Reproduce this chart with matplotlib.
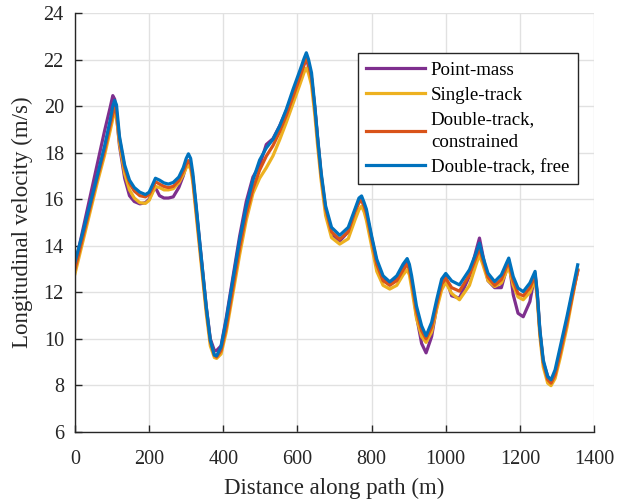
import matplotlib
matplotlib.use('Agg')
import matplotlib.pyplot as plt

plt.rcParams['font.family'] = ['Liberation Serif', 'DejaVu Serif']

# distance along path (m), shared by all four series
dist = [0, 20, 40, 60, 80, 95, 102, 107, 112, 120, 134, 147, 160, 175, 190, 200, 210, 217, 228, 240,
        252, 265, 280, 292, 300, 306, 312, 318, 327, 336, 345, 354, 365, 376, 382, 394, 408, 426, 444, 462,
        480, 498, 516, 534, 552, 570, 588, 606, 618, 624, 630, 638, 647, 655, 664, 676, 692, 714, 737, 755,
        766, 773, 780, 786, 800, 814, 831, 849, 868, 885, 896, 902, 908, 921, 935, 947, 962, 976, 989, 1000,
        1016, 1037, 1064, 1082, 1091, 1100, 1114, 1132, 1150, 1164, 1170, 1182, 1195, 1209, 1227, 1241, 1247, 1254, 1263, 1275,
        1284, 1295, 1309, 1327, 1341, 1356]

v_point = [13.15, 14.6, 16.05, 17.5, 18.95, 19.95, 20.45, 20.3, 19.6, 18.3, 16.9, 16.15, 15.9, 15.8, 15.85, 16.0, 16.35, 16.5, 16.15, 16.05,
           16.05, 16.1, 16.5, 17.0, 17.45, 17.65, 17.5, 16.9, 15.6, 14.2, 12.8, 11.4, 10.0, 9.5, 9.5, 9.7, 10.9, 12.65, 14.4, 15.9,
           16.95, 17.45, 18.35, 18.6, 19.15, 19.8, 20.55, 21.25, 21.8, 22.05, 21.7, 21.2, 19.9, 18.5, 17.0, 15.5, 14.5, 14.2, 14.6, 15.5,
           15.95, 16.0, 15.7, 15.4, 14.35, 13.3, 12.6, 12.35, 12.6, 13.1, 13.35, 13.05, 12.5, 11.0, 9.8, 9.4, 10.1, 11.4, 12.4, 12.65,
           11.85, 11.75, 12.7, 13.8, 14.33, 13.6, 12.5, 12.2, 12.2, 13.0, 13.4, 11.9, 11.1, 10.95, 11.6, 12.8, 11.9, 10.3, 9.0, 8.4,
           8.2, 8.5, 9.5, 10.8, 11.9, 12.9]

v_single = [12.8, 14.1, 15.4, 16.7, 17.9, 18.95, 19.45, 19.7, 19.55, 18.4, 17.1, 16.4, 16.05, 15.85, 15.82, 15.95, 16.3, 16.55, 16.5, 16.4,
            16.4, 16.45, 16.7, 17.05, 17.35, 17.45, 17.3, 16.7, 15.3, 13.9, 12.5, 11.1, 9.7, 9.2, 9.16, 9.35, 10.3, 11.95, 13.6, 15.1,
            16.25, 16.9, 17.35, 17.86, 18.55, 19.3, 20.1, 20.9, 21.45, 21.64, 21.4, 20.9, 19.6, 18.2, 16.8, 15.3, 14.35, 14.07, 14.3, 15.1,
            15.55, 15.7, 15.45, 15.1, 14.0, 12.9, 12.3, 12.14, 12.3, 12.75, 12.97, 12.75, 12.2, 10.9, 10.1, 9.85, 10.3, 11.3, 12.1, 12.43,
            11.95, 11.68, 12.3, 13.2, 13.61, 13.2, 12.5, 12.25, 12.4, 12.9, 13.1, 12.3, 11.8, 11.68, 12.0, 12.54, 11.7, 10.1, 8.8, 8.1,
            7.99, 8.3, 9.2, 10.5, 11.7, 12.97]

v_double_con = [13.0, 14.3, 15.6, 16.9, 18.1, 19.2, 19.65, 19.9, 19.75, 18.6, 17.35, 16.7, 16.35, 16.15, 16.1, 16.2, 16.5, 16.75, 16.65, 16.55,
                16.5, 16.55, 16.8, 17.2, 17.5, 17.65, 17.5, 16.9, 15.5, 14.1, 12.7, 11.3, 9.9, 9.3, 9.22, 9.5, 10.5, 12.2, 13.9, 15.35,
                16.45, 17.25, 17.85, 18.3, 18.9, 19.6, 20.4, 21.2, 21.8, 22.05, 21.8, 21.2, 19.9, 18.5, 17.05, 15.6, 14.6, 14.28, 14.6, 15.45,
                15.85, 15.95, 15.7, 15.4, 14.3, 13.2, 12.5, 12.3, 12.5, 12.95, 13.2, 13.0, 12.5, 11.2, 10.35, 10.0, 10.5, 11.5, 12.35, 12.6,
                12.2, 12.05, 12.75, 13.5, 13.9, 13.4, 12.65, 12.3, 12.55, 13.1, 13.3, 12.5, 11.95, 11.85, 12.2, 12.7, 11.85, 10.3, 9.0, 8.25,
                8.1, 8.45, 9.4, 10.7, 11.8, 12.95]

v_double_free = [13.3, 14.5, 15.75, 17.0, 18.3, 19.4, 20.0, 20.25, 20.05, 18.7, 17.47, 16.82, 16.5, 16.3, 16.2, 16.3, 16.65, 16.9, 16.82, 16.7,
                 16.65, 16.72, 16.95, 17.35, 17.75, 17.95, 17.75, 17.1, 15.7, 14.24, 12.81, 11.38, 9.95, 9.3, 9.27, 9.66, 10.81, 12.53, 14.24, 15.68,
                 16.82, 17.68, 18.2, 18.57, 19.14, 19.86, 20.71, 21.5, 22.05, 22.29, 22.0, 21.43, 20.0, 18.57, 17.14, 15.71, 14.79, 14.45, 14.79, 15.57,
                 16.05, 16.14, 15.85, 15.57, 14.43, 13.42, 12.71, 12.45, 12.71, 13.21, 13.45, 13.2, 12.71, 11.42, 10.56, 10.13, 10.71, 11.71, 12.57, 12.81,
                 12.49, 12.32, 12.97, 13.69, 14.11, 13.54, 12.82, 12.46, 12.75, 13.26, 13.47, 12.68, 12.18, 12.03, 12.4, 12.9, 11.97, 10.39, 9.1, 8.38,
                 8.24, 8.67, 9.67, 10.96, 12.03, 13.18]

labels = ['Point-mass', 'Single-track', 'Double-track,\nconstrained', 'Double-track, free']
colors = ['#7E2F8E', '#EDB120', '#D95319', '#0072BD']

fig = plt.figure(figsize=(6.28, 4.99), dpi=100)
ax = fig.add_axes([0.1194, 0.1343, 0.8265, 0.8397])

for v, lab, c in zip([v_point, v_single, v_double_con, v_double_free], labels, colors):
    ax.plot(dist, v, color=c, lw=2.3, label=lab)

ax.set_xlim(0, 1400)
ax.set_ylim(6, 24)
ax.set_xticks(range(0, 1401, 200))
ax.set_yticks(range(6, 25, 2))
ax.grid(True, color='#e1e1e1', lw=1.0)
ax.set_axisbelow(True)
for s in ['top', 'right']:
    ax.spines[s].set_visible(False)
for s in ['left', 'bottom']:
    ax.spines[s].set_color('#262626')
    ax.spines[s].set_linewidth(1.0)
ax.tick_params(direction='in', length=5, width=1.0, color='#262626', labelsize=14.5, labelcolor='#262626')
ax.tick_params(axis='x', pad=13)
ax.tick_params(axis='y', pad=8)
ax.set_xlabel('Distance along path (m)', fontsize=16.5, color='#262626', labelpad=6)
ax.set_ylabel('Longitudinal velocity (m/s)', fontsize=16.5, color='#262626', labelpad=7.5)

leg = ax.legend(loc='upper right', bbox_to_anchor=(0.9686, 0.9038), fontsize=13.6, fancybox=False,
                handlelength=3.1, handletextpad=0.32, labelspacing=0.4, borderpad=0.45, borderaxespad=0)
for t in leg.get_texts():
    t.set_linespacing(1.45)
leg.get_frame().set_edgecolor('#262626')
leg.get_frame().set_linewidth(1.0)
leg.get_frame().set_alpha(1)

fig.savefig('out.png', dpi=100)
